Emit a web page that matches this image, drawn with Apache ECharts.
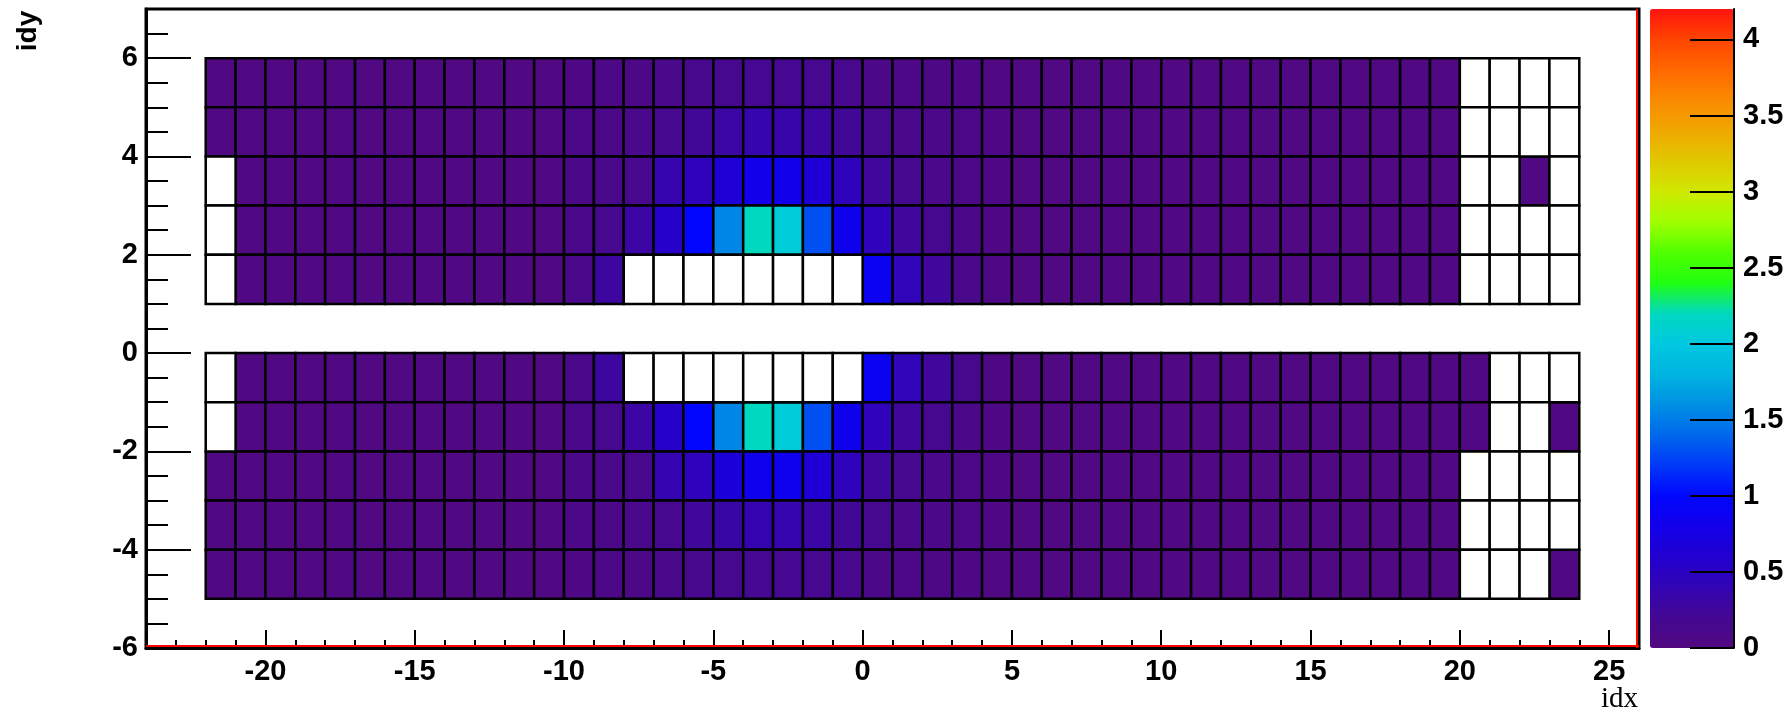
<!DOCTYPE html>
<html>
<head>
<meta charset="utf-8">
<script src="https://cdn.jsdelivr.net/npm/echarts/dist/echarts.min.js"></script>
<style>
body { margin: 0; background: #fff; }
#HitMap { width: 1790px; height: 716px; }
</style>
</head>
<body>
<div id="HitMap"></div>
<script>
// bins: 46 columns of width 1 starting at idx = -22, rows of height 1 (lower edge given)
var xFirst = -22;
var rowLow = [5, 4, 3, 2, 1, -1, -2, -3, -4, -5];

// null = empty bin (drawn white)
var row5 = [0.03,0.03,0.03,0.03,0.03,0.03,0.03,0.03,0.03,0.03,0.03,0.03, 0.06,0.08,0.08,0.12,0.14,0.17,0.19,0.19,0.17,0.14,0.10,0.08,0.07,0.06, 0.03,0.03,0.03,0.03,0.03,0.03,0.03,0.03,0.03,0.03,0.03,0.03,0.03,0.03,0.03,0.03, null,null,null,null];
var row4 = [0.03,0.03,0.03,0.03,0.03,0.03,0.03,0.03,0.03,0.03,0.03,0.03, 0.08,0.10,0.12,0.17,0.23,0.30,0.36,0.34,0.28,0.23,0.17,0.12,0.10,0.08, 0.05,0.03,0.03,0.03,0.03,0.03,0.03,0.03,0.03,0.03,0.03,0.03,0.03,0.03,0.03,0.03, null,null,null,null];
var row3 = [null,0.03,0.03,0.03,0.03,0.03,0.03,0.03,0.03,0.03,0.03,0.03, 0.10,0.12,0.14,0.36,0.45,0.65,0.80,0.80,0.65,0.45,0.26,0.17,0.12,0.08, 0.05,0.03,0.03,0.03,0.03,0.03,0.03,0.03,0.03,0.03,0.03,0.03,0.03,0.03,0.03,0.03, null,null,0.03,null];
var row2 = [null,0.03,0.03,0.03,0.03,0.03,0.03,0.03,0.03,0.03,0.03,0.03, 0.12,0.17,0.30,0.55,1.00,1.55,2.20,2.05,1.30,0.82,0.45,0.26,0.17,0.10, 0.05,0.03,0.03,0.03,0.03,0.03,0.03,0.03,0.03,0.03,0.03,0.03,0.03,0.03,0.03,0.03, null,null,null,null];
var row1 = [null,0.03,0.03,0.03,0.03,0.03,0.03,0.03,0.03,0.03,0.03,0.03, 0.12,0.28,null,null,null,null,null,null,null,null,0.88,0.42,0.26,0.12, 0.05,0.03,0.03,0.03,0.03,0.03,0.03,0.03,0.03,0.03,0.03,0.03,0.03,0.03,0.03,0.03, null,null,null,null];
var rowM1 = [null,0.03,0.03,0.03,0.03,0.03,0.03,0.03,0.03,0.03,0.03,0.03, 0.12,0.28,null,null,null,null,null,null,null,null,0.88,0.42,0.26,0.14, 0.05,0.03,0.03,0.03,0.03,0.03,0.03,0.03,0.03,0.03,0.03,0.03,0.03,0.03,0.03,0.03, 0.03,null,null,null];
var rowM2 = [null,0.03,0.03,0.03,0.03,0.03,0.03,0.03,0.03,0.03,0.03,0.03, 0.12,0.17,0.30,0.55,1.00,1.55,2.20,2.05,1.30,0.82,0.45,0.26,0.17,0.10, 0.05,0.03,0.03,0.03,0.03,0.03,0.03,0.03,0.03,0.03,0.03,0.03,0.03,0.03,0.03,0.03, 0.03,null,null,0.03];
var rowM3 = [0.03,0.03,0.03,0.03,0.03,0.03,0.03,0.03,0.03,0.03,0.03,0.03, 0.10,0.12,0.15,0.38,0.45,0.67,0.82,0.82,0.65,0.45,0.26,0.17,0.12,0.08, 0.05,0.03,0.03,0.03,0.03,0.03,0.03,0.03,0.03,0.03,0.03,0.03,0.03,0.03,0.03,0.03, null,null,null,null];
var rowM4 = [0.03,0.03,0.03,0.03,0.03,0.03,0.03,0.03,0.03,0.03,0.03,0.03, 0.08,0.10,0.12,0.17,0.25,0.32,0.38,0.36,0.30,0.23,0.17,0.12,0.10,0.08, 0.05,0.03,0.03,0.03,0.03,0.03,0.03,0.03,0.03,0.03,0.03,0.03,0.03,0.03,0.03,0.03, null,null,null,null];
var rowM5 = [0.03,0.03,0.03,0.03,0.03,0.03,0.03,0.03,0.03,0.03,0.03,0.03, 0.06,0.08,0.08,0.12,0.14,0.17,0.19,0.19,0.17,0.14,0.10,0.08,0.07,0.06, 0.03,0.03,0.03,0.03,0.03,0.03,0.03,0.03,0.03,0.03,0.03,0.03,0.03,0.03,0.03,0.03, null,null,null,0.03];
var rows = [row5, row4, row3, row2, row1, rowM1, rowM2, rowM3, rowM4, rowM5];

var xTicks = [-20, -15, -10, -5, 0, 5, 10, 15, 20, 25];
var yTicks = [-6, -4, -2, 0, 2, 4, 6];
var zTicks = [0, 0.5, 1, 1.5, 2, 2.5, 3, 3.5, 4];
var zMax = 4.2;

// palette, evenly spaced 0 .. 4.2
var palette = ['#520880','#440892','#3204b4','#2200d0','#1200ea','#0206ff','#0038f8','#0068ec',
	'#0090e4','#00b4e0','#00c8e0','#00d8c0','#20ff10','#50ff00','#a0ff00','#d0e800',
	'#e0c800','#f0a800','#fa8a00','#ff6800','#ff4400','#ff1410'];

var filled = [];
var empty = [];
for (var r = 0; r < rows.length; r++) {
	for (var c = 0; c < rows[r].length; c++) {
		var v = rows[r][c];
		if (v === null) {
			empty.push([xFirst + c, rowLow[r]]);
		} else {
			filled.push([xFirst + c, rowLow[r], v]);
		}
	}
}

function renderCell(params, api) {
	var p0 = api.coord([api.value(0), api.value(1) + 1]);
	var p1 = api.coord([api.value(0) + 1, api.value(1)]);
	return {
		type : 'rect',
		shape : { x : p0[0], y : p0[1], width : p1[0] - p0[0], height : p1[1] - p0[1] },
		style : {
			fill : params.seriesIndex === 0 ? api.visual('color') : '#fff',
			stroke : '#000',
			lineWidth : 2.5
		}
	};
}

var tickFont = {
	color : '#000',
	fontFamily : 'Liberation Sans',
	fontWeight : 'bold',
	fontSize : 29
};

var HitMap = echarts.init(document.getElementById('HitMap'));
HitMap.setOption({
	animation : false,
	grid : [ {
		left : 146, right : 151, top : 9, bottom : 68,
		show : true, borderColor : '#000', borderWidth : 3
	}, {
		left : 1650, width : 84, top : 9, bottom : 68
	} ],
	xAxis : [ {
		type : 'value', min : -24, max : 26, gridIndex : 0,
		splitLine : { show : false },
		axisLine : { onZero : false, lineStyle : { color : '#000', width : 3 } },
		axisTick : { inside : true, length : 18, customValues : xTicks, lineStyle : { color : '#000', width : 2 } },
		axisLabel : Object.assign({ customValues : xTicks, margin : 9 }, tickFont)
	}, {
		type : 'value', min : -24, max : 26, interval : 1, gridIndex : 0, position : 'bottom',
		splitLine : { show : false },
		axisLine : { show : false, onZero : false },
		axisTick : { inside : true, length : 8, lineStyle : { color : '#000', width : 2 } },
		axisLabel : { show : false }
	}, {
		type : 'value', min : 0, max : 1, gridIndex : 1, show : false
	} ],
	yAxis : [ {
		type : 'value', min : -6, max : 7, gridIndex : 0,
		splitLine : { show : false },
		axisLine : { onZero : false, lineStyle : { color : '#000', width : 3 } },
		axisTick : { inside : true, length : 45, customValues : yTicks, lineStyle : { color : '#000', width : 2 } },
		axisLabel : Object.assign({ customValues : yTicks, margin : 8 }, tickFont)
	}, {
		type : 'value', min : -6, max : 7, interval : 0.5, gridIndex : 0, position : 'left',
		splitLine : { show : false },
		axisLine : { show : false, onZero : false },
		axisTick : { inside : true, length : 22, lineStyle : { color : '#000', width : 2 } },
		axisLabel : { show : false }
	}, {
		type : 'value', min : 0, max : zMax, gridIndex : 1, position : 'right', z : 10,
		splitLine : { show : false },
		axisLine : { onZero : false, lineStyle : { color : '#000', width : 2 } },
		axisTick : { inside : true, length : 44, customValues : zTicks, lineStyle : { color : '#000', width : 2 } },
		axisLabel : Object.assign({ customValues : zTicks, margin : 9 }, tickFont)
	} ],
	visualMap : {
		type : 'continuous',
		min : 0, max : zMax,
		dimension : 2,
		seriesIndex : 0,
		calculable : false,
		showLabel : false,
		text : null,
		padding : 0,
		left : 1650, top : 9,
		itemWidth : 84, itemHeight : 639,
		inRange : { color : palette }
	},
	graphic : [ {
		type : 'text', x : 28, y : 31, rotation : Math.PI / 2,
		style : { text : 'idy', fill : '#000', font : 'bold 28px "Liberation Sans"', textAlign : 'center', textVerticalAlign : 'middle' }
	}, {
		type : 'text', x : 1638, y : 699,
		style : { text : 'idx', fill : '#000', font : '29px "Liberation Serif"', textAlign : 'right', textVerticalAlign : 'middle' }
	} ],
	series : [ {
		type : 'custom', xAxisIndex : 0, yAxisIndex : 0,
		renderItem : renderCell,
		encode : { x : 0, y : 1 },
		data : filled
	}, {
		type : 'custom', xAxisIndex : 0, yAxisIndex : 0,
		renderItem : renderCell,
		encode : { x : 0, y : 1 },
		data : empty,
		markLine : {
			silent : true, symbol : 'none',
			label : { show : false },
			lineStyle : { color : '#ff0000', width : 2, type : 'solid' },
			data : [ { xAxis : 25.93 }, { yAxis : -5.96 } ]
		}
	} ]
});
</script>
</body>
</html>
